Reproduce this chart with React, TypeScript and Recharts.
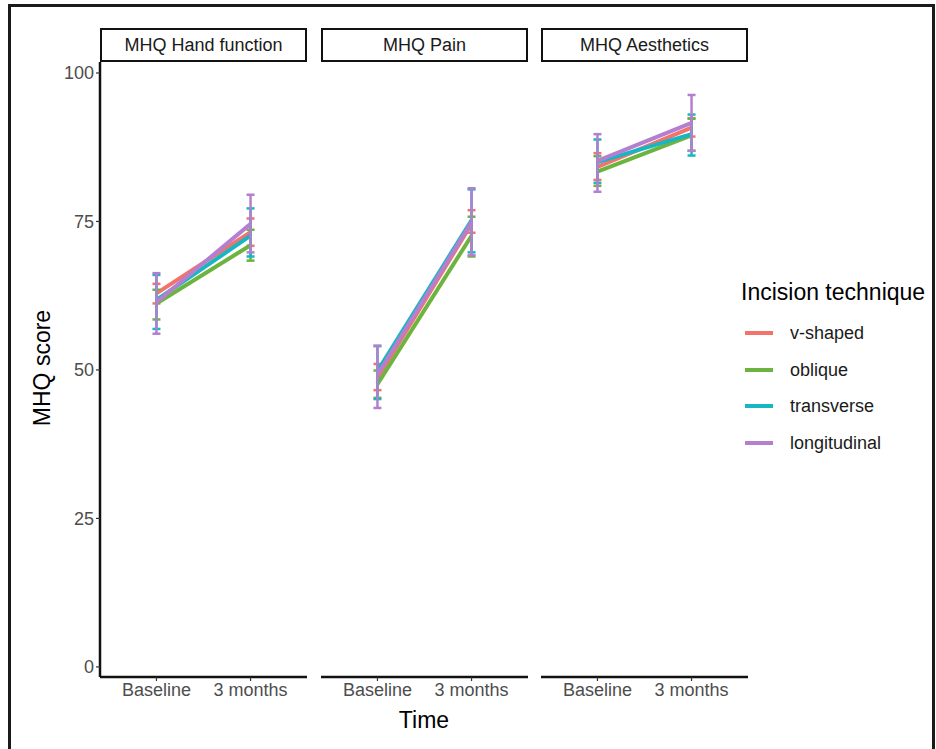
import React from 'react';
import { LineChart, Line, XAxis, YAxis, ErrorBar } from 'recharts';

const categories = ['Baseline', '3 months'];
const panels = ['MHQ Hand function', 'MHQ Pain', 'MHQ Aesthetics'];
const techniques = ['v-shaped', 'oblique', 'transverse', 'longitudinal'];
const colors = ['#F2726C', '#6DB33F', '#16B7C3', '#B57FD0'];
const yTicks = [0, 25, 50, 75, 100];

// means per technique: [Baseline, 3 months]
const handMeans = [[62.9, 73.2], [61.2, 71.0], [61.8, 72.6], [61.4, 74.6]];
const handLow = [[61.2, 70.9], [58.5, 68.4], [56.9, 69.1], [56.1, 69.8]];
const handHigh = [[64.5, 75.5], [63.5, 73.6], [66.0, 77.2], [66.3, 79.5]];

const painMeans = [[48.6, 74.6], [47.6, 72.6], [49.8, 75.2], [49.2, 74.9]];
const painLow = [[46.6, 73.1], [45.3, 69.1], [45.1, 69.8], [43.6, 69.3]];
const painHigh = [[51.0, 76.9], [49.9, 75.8], [54.0, 80.4], [54.1, 80.6]];

const aesthMeans = [[84.2, 90.8], [83.4, 89.5], [85.0, 89.7], [85.2, 91.6]];
const aesthLow = [[82.0, 89.3], [81.0, 86.9], [81.5, 86.1], [80.0, 86.9]];
const aesthHigh = [[86.5, 92.4], [86.0, 92.3], [88.8, 93.0], [89.7, 96.3]];

const buildRows = (means: number[][], low: number[][], high: number[][]) =>
  categories.map((label, i) => {
    const row: any = { x: i + 1, label };
    techniques.forEach((t, k) => {
      row[t] = means[k][i];
      row[t + 'Err'] = [means[k][i] - low[k][i], high[k][i] - means[k][i]];
    });
    return row;
  });

const panelData = [
  buildRows(handMeans, handLow, handHigh),
  buildRows(painMeans, painLow, painHigh),
  buildRows(aesthMeans, aesthLow, aesthHigh),
];

const FONT = '"Liberation Sans", Arial, sans-serif';
const panelLeft = [100, 321, 541];
const PANEL_W = 207;
const PLOT_TOP = 62;
const PLOT_H = 615;
const X_AXIS_H = 40;

const Panel: React.FC<{ idx: number }> = ({ idx }) => {
  const first = idx === 0;
  const yw = first ? 60 : 0;
  return (
    <div style={{ position: 'absolute', left: panelLeft[idx] - yw, top: PLOT_TOP }}>
      <LineChart
        width={PANEL_W + yw}
        height={PLOT_H + X_AXIS_H}
        data={panelData[idx]}
        margin={{ top: 0, right: 0, bottom: 0, left: 0 }}
      >
        <XAxis
          dataKey="x"
          type="number"
          domain={[0.4, 2.6]}
          ticks={[1, 2]}
          tickFormatter={(v) => categories[v - 1]}
          height={X_AXIS_H}
          axisLine={{ stroke: '#111', strokeWidth: 2.5 }}
          tickLine={{ stroke: '#333', strokeWidth: 1.2 }}
          tickSize={4}
          tick={{ fill: '#4d4d4d', fontSize: 18, fontFamily: FONT }}
        />
        <YAxis
          type="number"
          domain={[-1.7, 101.85]}
          ticks={yTicks}
          allowDataOverflow
          hide={!first}
          width={yw}
          axisLine={{ stroke: '#111', strokeWidth: 2.5 }}
          tickLine={{ stroke: '#333', strokeWidth: 1.2 }}
          tickSize={4}
          tick={{ fill: '#4d4d4d', fontSize: 18, fontFamily: FONT }}
        />
        {techniques.map((t, k) => (
          <Line
            key={t}
            type="linear"
            dataKey={t}
            stroke={colors[k]}
            strokeWidth={4}
            dot={false}
            activeDot={false}
            isAnimationActive={false}
          >
            <ErrorBar
              dataKey={t + 'Err'}
              direction="y"
              width={4}
              stroke={colors[k]}
              strokeWidth={2.5}
              isAnimationActive={false}
            />
          </Line>
        ))}
      </LineChart>
    </div>
  );
};

export default function App() {
  return (
    <div
      style={{
        position: 'absolute',
        left: 0,
        top: 0,
        width: 936,
        height: 749,
        overflow: 'hidden',
        background: '#fff',
        fontFamily: FONT,
      }}
    >
      <div
        style={{
          position: 'absolute',
          left: 8,
          top: 4,
          width: 921,
          height: 760,
          border: '3px solid #1a1a1a',
          borderBottom: 'none',
        }}
      />
      {panels.map((p, i) => (
        <div
          key={p}
          style={{
            position: 'absolute',
            left: panelLeft[i],
            top: 28,
            width: PANEL_W - 4,
            height: 30,
            border: '2px solid #111',
            display: 'flex',
            alignItems: 'center',
            justifyContent: 'center',
            fontSize: 18,
            color: '#1a1a1a',
            whiteSpace: 'nowrap',
          }}
        >
          {p}
        </div>
      ))}
      {panels.map((p, i) => (
        <Panel key={p + 'chart'} idx={i} />
      ))}
      <div
        style={{
          position: 'absolute',
          left: 42,
          top: 368,
          transform: 'translate(-50%, -50%) rotate(-90deg)',
          fontSize: 23,
          whiteSpace: 'nowrap',
          color: '#000',
        }}
      >
        MHQ score
      </div>
      <div
        style={{
          position: 'absolute',
          left: 424,
          top: 720,
          transform: 'translate(-50%, -50%)',
          fontSize: 23,
          color: '#000',
        }}
      >
        Time
      </div>
      <div
        style={{
          position: 'absolute',
          left: 741,
          top: 292,
          transform: 'translateY(-50%)',
          fontSize: 23,
          color: '#000',
          whiteSpace: 'nowrap',
        }}
      >
        Incision technique
      </div>
      {techniques.map((t, k) => (
        <div key={t}>
          <div
            style={{
              position: 'absolute',
              left: 745,
              top: 331 + k * 36.5,
              width: 28,
              height: 4,
              background: colors[k],
            }}
          />
          <div
            style={{
              position: 'absolute',
              left: 790,
              top: 333 + k * 36.5,
              transform: 'translateY(-50%)',
              fontSize: 18,
              color: '#1a1a1a',
              whiteSpace: 'nowrap',
            }}
          >
            {t}
          </div>
        </div>
      ))}
    </div>
  );
}
